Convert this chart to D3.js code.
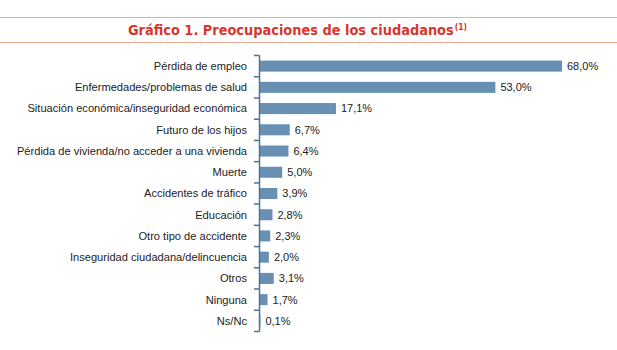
<!DOCTYPE html>
<html><head><meta charset="utf-8">
<script src="https://cdn.jsdelivr.net/npm/d3@7"></script>
<style>body{margin:0;background:#fff}svg{display:block}</style>
</head><body>
<svg id="c" width="617" height="350"></svg>
<script>
const categories = ["Pérdida de empleo","Enfermedades/problemas de salud","Situación económica/inseguridad económica","Futuro de los hijos","Pérdida de vivienda/no acceder a una vivienda","Muerte","Accidentes de tráfico","Educación","Otro tipo de accidente","Inseguridad ciudadana/delincuencia","Otros","Ninguna","Ns/Nc"];
const values = [68.0,53.0,17.1,6.7,6.4,5.0,3.9,2.8,2.3,2.0,3.1,1.7,0.1];
const valueLabels = ["68,0%","53,0%","17,1%","6,7%","6,4%","5,0%","3,9%","2,8%","2,3%","2,0%","3,1%","1,7%","0,1%"];
const title = "Gráfico 1. Preocupaciones de los ciudadanos";
const titleNote = "(1)";

const svg = d3.select("#c");
svg.append("rect").attr("width",617).attr("height",350).attr("fill","#fff");
// title rules
svg.append("line").attr("x1",0).attr("x2",617).attr("y1",17.5).attr("y2",17.5).attr("stroke","#f2ab95").attr("stroke-width",1);
svg.append("line").attr("x1",0).attr("x2",617).attr("y1",42.5).attr("y2",42.5).attr("stroke","#f2ab95").attr("stroke-width",1);
const t = svg.append("text").attr("x",297.5).attr("y",35).attr("text-anchor","middle")
  .attr("font-family","'Liberation Sans Narrow','DejaVu Sans Condensed',sans-serif").attr("font-weight","bold")
  .attr("font-size",14.4).attr("fill","#d8352d");
t.append("tspan").text(title);
t.append("tspan").attr("font-size",8.5).attr("dy",-5).attr("dx",1).text(titleNote);

const x = d3.scaleLinear().domain([0,68]).range([260,562]);
const y = d3.scaleBand().domain(categories).range([55.5,331.5]).paddingInner(0.48).paddingOuter(0.24);

svg.append("g").selectAll("rect").data(values).join("rect")
  .attr("x",x(0)).attr("y",(d,i)=>y(categories[i]))
  .attr("width",d=>x(d)-x(0)).attr("height",y.bandwidth())
  .attr("fill","#6790b3");

// axis
const axisColor = "#4b7394";
svg.append("line").attr("x1",259.5).attr("x2",259.5).attr("y1",y.range()[0]).attr("y2",y.range()[1]).attr("stroke",axisColor).attr("stroke-width",1.5);
const step = y.step();
const tickYs = d3.range(categories.length+1).map(i=>y.range()[0]+i*step);
svg.append("g").selectAll("line").data(tickYs).join("line")
  .attr("x1",254).attr("x2",259.5).attr("y1",d=>d).attr("y2",d=>d).attr("stroke",axisColor).attr("stroke-width",1.5);

svg.append("g").selectAll("text").data(categories).join("text")
  .attr("x",247).attr("y",d=>y(d)+y.bandwidth()/2).attr("dy","0.35em").attr("text-anchor","end")
  .attr("font-family","'Liberation Sans','Arial',sans-serif").attr("font-size",11.1).attr("fill","#222")
  .text(d=>d);

svg.append("g").selectAll("text").data(values).join("text")
  .attr("x",d=>x(d)+5).attr("y",(d,i)=>y(categories[i])+y.bandwidth()/2).attr("dy","0.35em")
  .attr("font-family","'Liberation Sans','Arial',sans-serif").attr("font-size",11).attr("fill","#222")
  .text((d,i)=>valueLabels[i]);
</script>
</body></html>
